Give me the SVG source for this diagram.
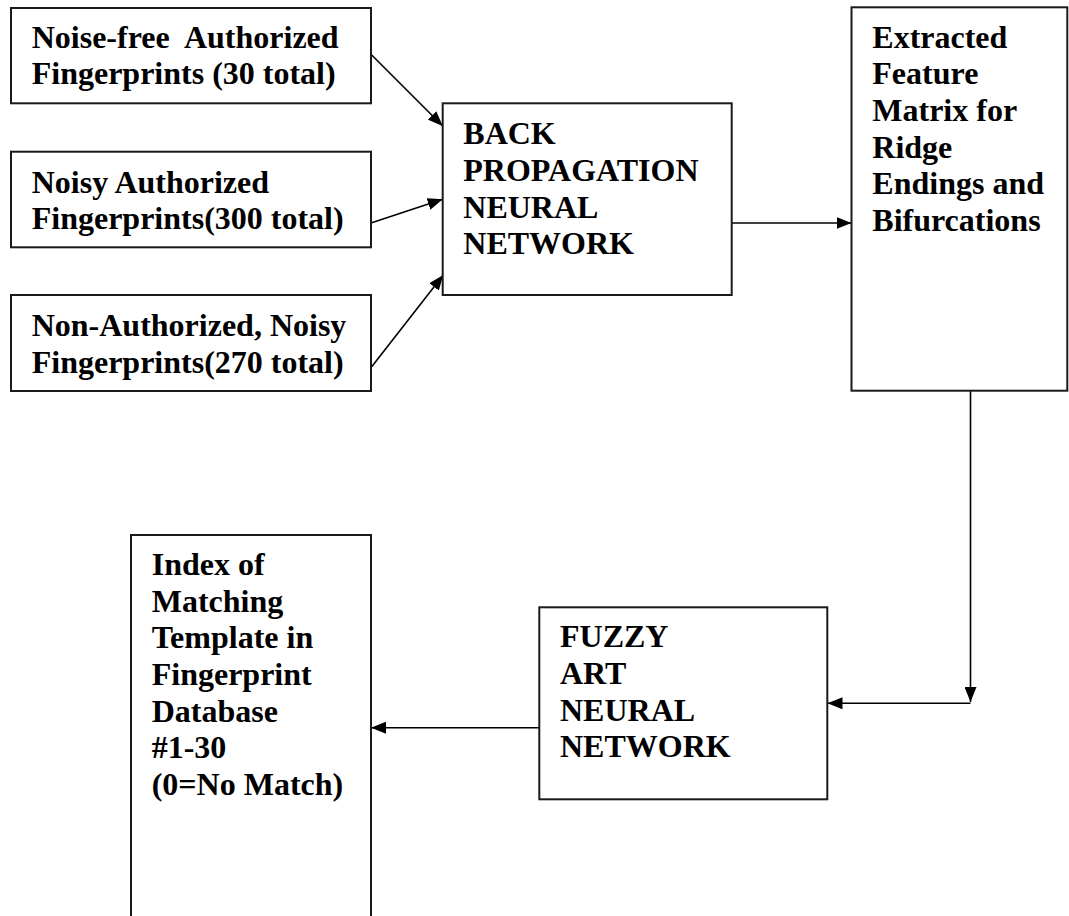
<svg xmlns="http://www.w3.org/2000/svg" width="1069" height="916" viewBox="0 0 1069 916">
<style>
.box{fill:#fff;stroke:#1a1a1a;stroke-width:2}
.t{font-family:"Liberation Serif","Times New Roman",serif;font-weight:bold;font-size:32px;fill:#000;white-space:pre}
.c{fill:none;stroke:#000;stroke-width:1.6}
</style>
<defs>
<marker id="ah" markerUnits="userSpaceOnUse" markerWidth="16" markerHeight="12" refX="15" refY="6" orient="auto">
<path d="M0,0 L15,6 L0,12 Z" fill="#000"/>
</marker>
</defs>
<rect width="1069" height="916" fill="#fff"/>
<g id="connectors">
<line class="c" x1="371.7" y1="55" x2="442.7" y2="126" marker-end="url(#ah)"/>
<line class="c" x1="371.7" y1="222.7" x2="442.7" y2="199.3" marker-end="url(#ah)"/>
<line class="c" x1="371.7" y1="366.7" x2="443.3" y2="275" marker-end="url(#ah)"/>
<line class="c" x1="731.7" y1="223" x2="851.5" y2="223" marker-end="url(#ah)"/>
<line class="c" x1="970.5" y1="391" x2="970.5" y2="702" marker-end="url(#ah)"/>
<line class="c" x1="970.5" y1="703.3" x2="827.5" y2="703.3" marker-end="url(#ah)"/>
<line class="c" x1="539.3" y1="727.7" x2="371" y2="727.7" marker-end="url(#ah)"/>
</g>
<g id="n1">
<rect class="box" x="11" y="8" width="360" height="95.3"/>
<text class="t" x="31.7" y="47.7">Noise-free  Authorized</text>
<text class="t" x="31.7" y="84.3">Fingerprints (30 total)</text>
</g>
<g id="n2">
<rect class="box" x="11" y="151.7" width="360" height="95.6"/>
<text class="t" x="31.7" y="192.7">Noisy Authorized</text>
<text class="t" x="31.7" y="229.3">Fingerprints(300 total)</text>
</g>
<g id="n3">
<rect class="box" x="11" y="295" width="360" height="96"/>
<text class="t" x="31.7" y="336">Non-Authorized, Noisy</text>
<text class="t" x="31.7" y="372.7">Fingerprints(270 total)</text>
</g>
<g id="bpnn">
<rect class="box" x="442.7" y="103.3" width="289" height="191.7"/>
<text class="t" x="463.3" y="144.3">BACK</text>
<text class="t" x="463.3" y="181">PROPAGATION</text>
<text class="t" x="463.3" y="217.7">NEURAL</text>
<text class="t" x="463.3" y="254.4">NETWORK</text>
</g>
<g id="features">
<rect class="box" x="851.5" y="7.3" width="215.8" height="383.4"/>
<text class="t" x="872.3" y="47.7">Extracted</text>
<text class="t" x="872.3" y="84.3">Feature</text>
<text class="t" x="872.3" y="121">Matrix for</text>
<text class="t" x="872.3" y="157.7">Ridge</text>
<text class="t" x="872.3" y="194.3">Endings and</text>
<text class="t" x="872.3" y="231">Bifurcations</text>
</g>
<g id="fuzzy">
<rect class="box" x="539.3" y="607.3" width="288" height="192"/>
<text class="t" x="560" y="647.3">FUZZY</text>
<text class="t" x="560" y="684">ART</text>
<text class="t" x="560" y="720.7">NEURAL</text>
<text class="t" x="560" y="757.4">NETWORK</text>
</g>
<g id="index">
<rect class="box" x="131" y="535" width="240" height="400"/>
<text class="t" x="151.7" y="575">Index of</text>
<text class="t" x="151.7" y="611.7">Matching</text>
<text class="t" x="151.7" y="648.3">Template in</text>
<text class="t" x="151.7" y="685">Fingerprint</text>
<text class="t" x="151.7" y="721.7">Database</text>
<text class="t" x="151.7" y="758.3">#1-30</text>
<text class="t" x="151.7" y="795">(0=No Match)</text>
</g>
</svg>
